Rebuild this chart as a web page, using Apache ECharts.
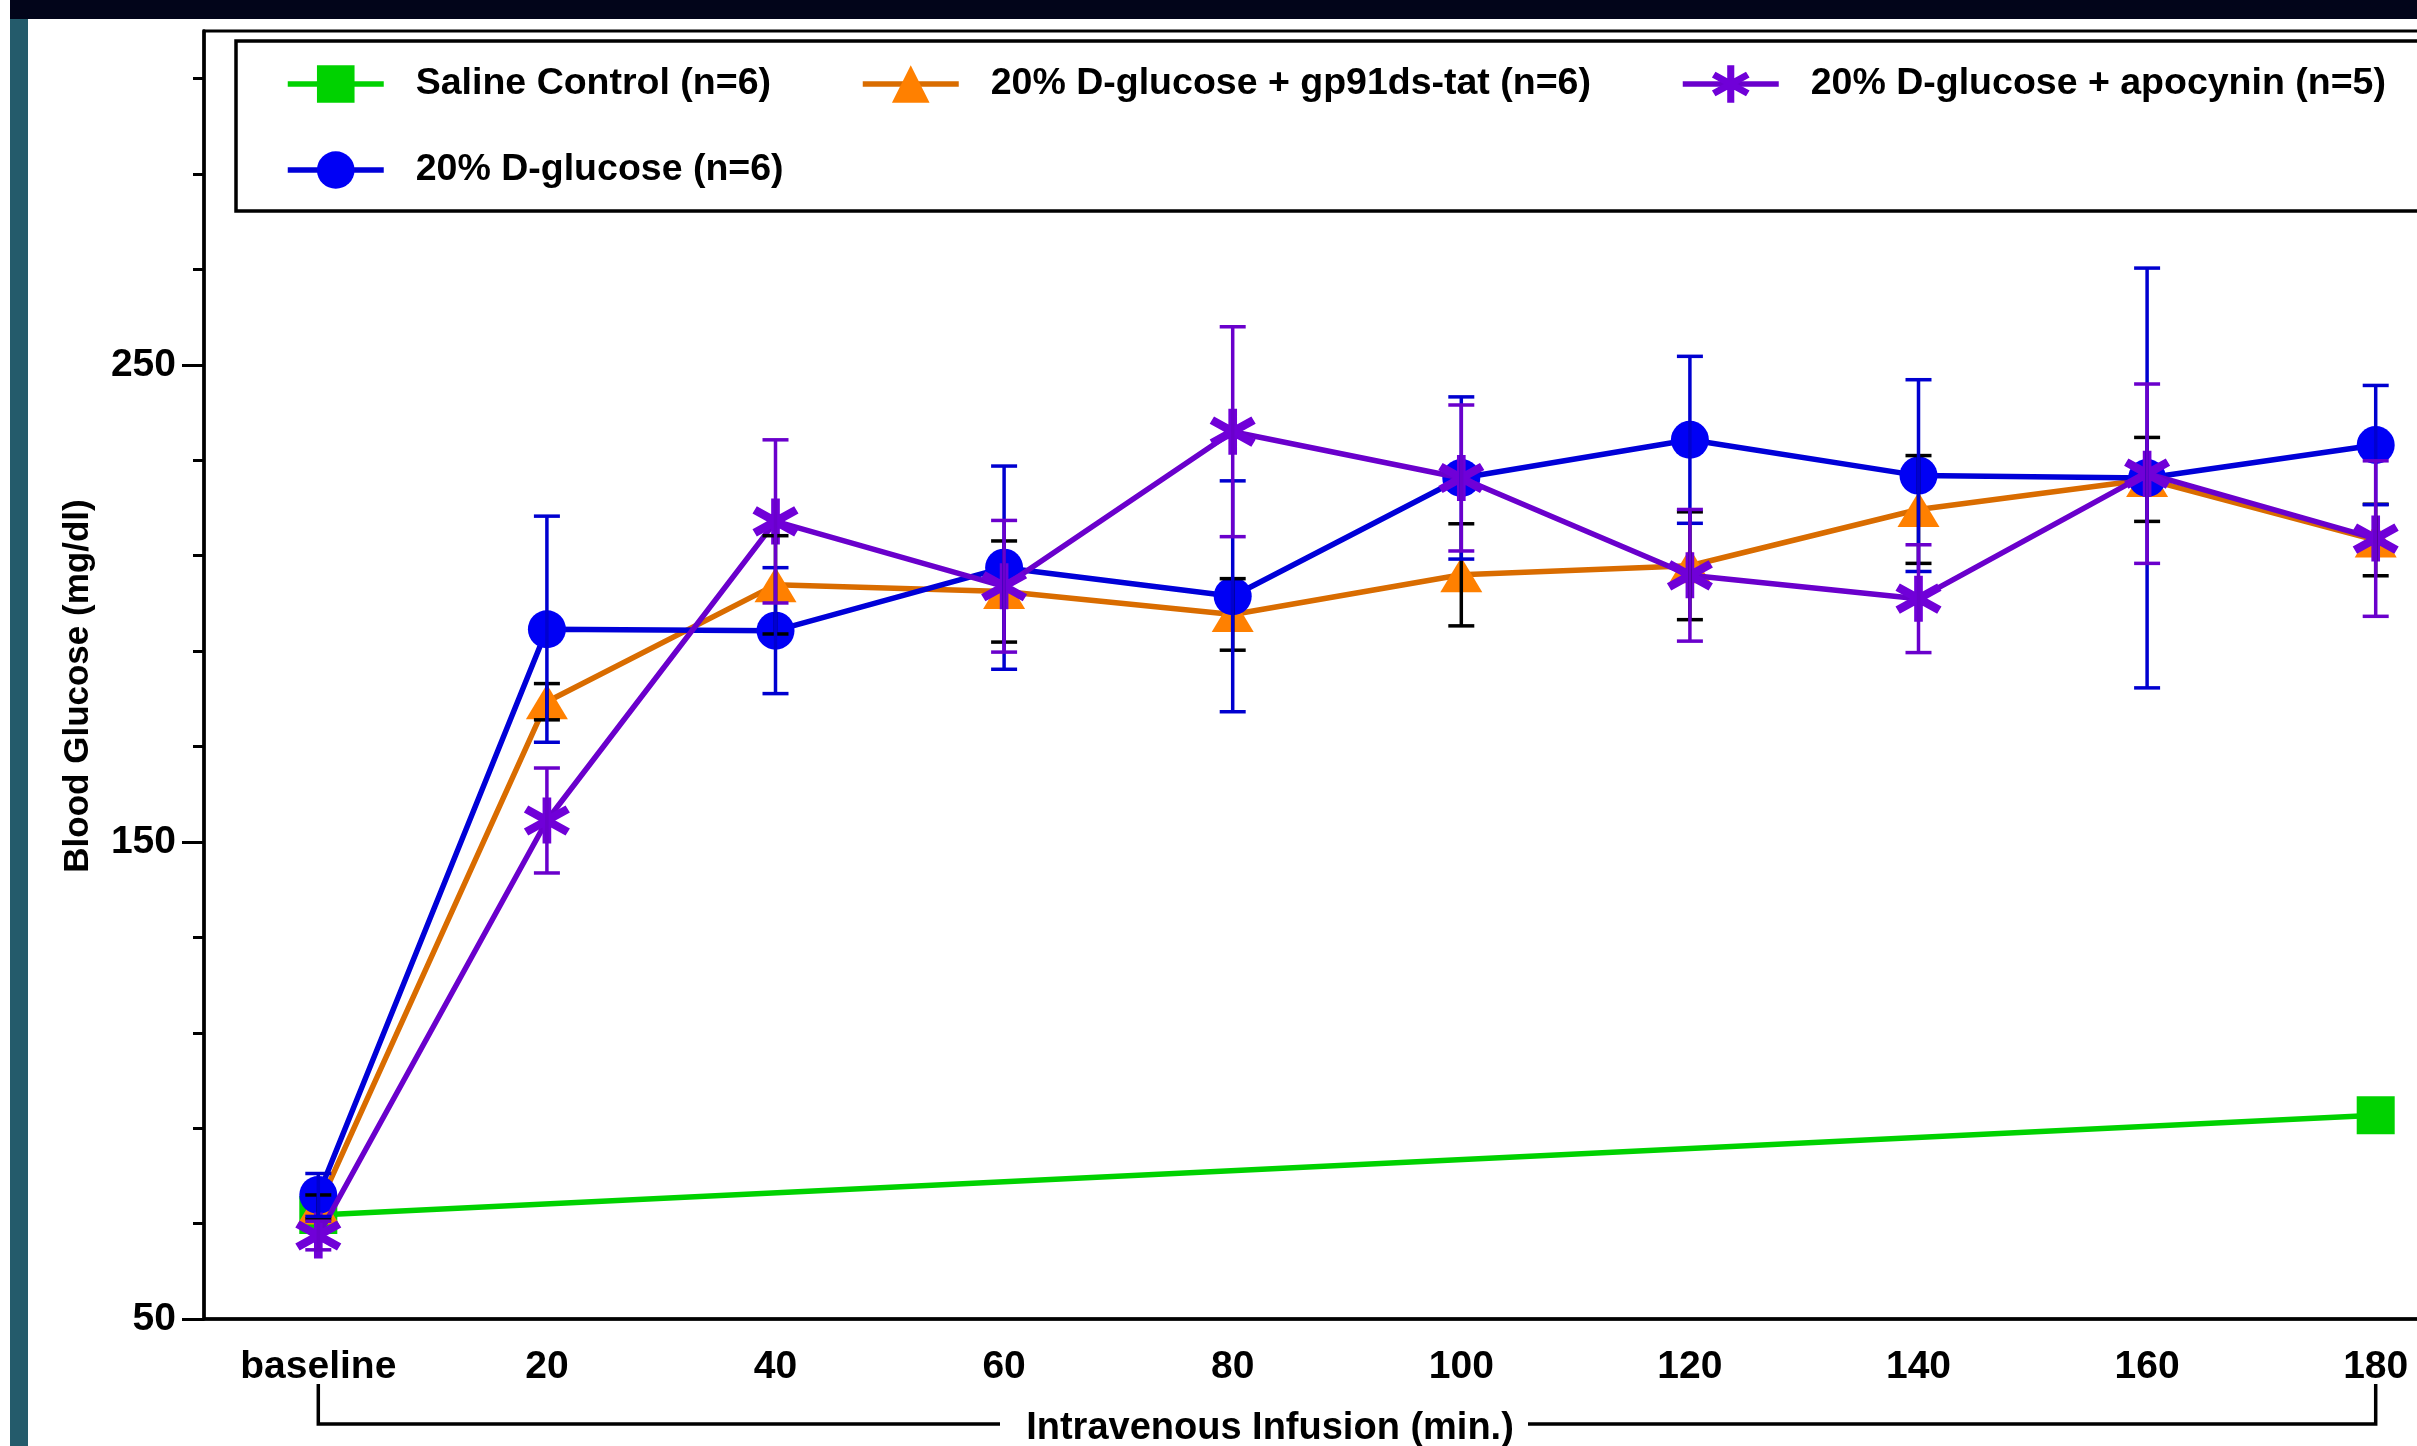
<!DOCTYPE html>
<html><head><meta charset="utf-8">
<script src="https://cdn.jsdelivr.net/npm/echarts@6/dist/echarts.min.js"></script>
<style>html,body{margin:0;padding:0;background:#fff}#c{width:2417px;height:1446px}</style>
</head><body><div id="c"></div>
<script>
// ---------------- data ----------------
const categories = ['baseline', '20', '40', '60', '80', '100', '120', '140', '160', '180'];
const seriesNames = ['Saline Control (n=6)', '20% D-glucose + gp91ds-tat (n=6)', '20% D-glucose + apocynin (n=5)', '20% D-glucose (n=6)'];
const salineMean  = [71.8, null, null, null, null, null, null, null, null, 92.7];
const gp91Mean    = [73.5, 179.4, 203.9, 202.5, 197.7, 206.0, 207.9, 219.7, 226.0, 213.3];
const gp91Sem     = [2.5, 3.8, 10.3, 10.6, 7.5, 10.7, 11.3, 11.3, 8.8, 7.5];
const apoMean     = [67.5, 154.5, 217.2, 203.6, 236.0, 226.3, 205.9, 201.0, 227.2, 213.6];
const apoSem      = [3.0, 11.0, 17.1, 13.8, 22.0, 15.3, 13.8, 11.3, 18.8, 16.3];
const glucoseMean = [76.0, 194.6, 194.3, 207.5, 201.5, 226.3, 234.3, 226.8, 226.3, 233.2];
const glucoseSem  = [4.5, 23.7, 13.2, 21.3, 24.2, 17.0, 17.5, 20.1, 44.0, 12.5];
const yTickValues = [50, 150, 250];
const yTitle = 'Blood Glucose (mg/dl)';
const xTitle = 'Intravenous Infusion (min.)';

// six-armed asterisk (vertical + two arms at ±30°), thick strokes
const asterisk = 'path://M41,0L59,0L59,100L41,100Z M88.8,17.2L97.8,32.8L11.2,82.8L2.2,67.2Z M2.2,32.8L11.2,17.2L97.8,67.2L88.8,82.8Z';
const FONT = 'Liberation Sans';
const LW = 5.5;

function errSeries(mean, sem, color) {
  return {
    type: 'custom', silent: true, z: 6, animation: false,
    data: mean.map((m, i) => [i, m - sem[i], m + sem[i]]),
    encode: { x: 0, y: [1, 2] },
    renderItem: function (params, api) {
      const lo = api.coord([api.value(0), api.value(1)]);
      const hi = api.coord([api.value(0), api.value(2)]);
      const hw = 13;
      const st = { stroke: color, lineWidth: 3.5 };
      return { type: 'group', children: [
        { type: 'line', shape: { x1: hi[0], y1: hi[1], x2: lo[0], y2: lo[1] }, style: st },
        { type: 'line', shape: { x1: hi[0] - hw, y1: hi[1], x2: hi[0] + hw, y2: hi[1] }, style: st },
        { type: 'line', shape: { x1: lo[0] - hw, y1: lo[1], x2: lo[0] + hw, y2: lo[1] }, style: st }
      ]};
    }
  };
}

const legendCommon = {
  orient: 'horizontal', itemWidth: 96, itemHeight: 47, padding: 0, itemGap: 0, selectedMode: false,
  lineStyle: { width: LW },
  textStyle: { fontFamily: FONT, fontWeight: 'bold', fontSize: 37.5, color: '#000', padding: [0, 0, 0, 27] }
};

const chart = echarts.init(document.getElementById('c'), null, { renderer: 'canvas' });
const option = {
  animation: false,
  backgroundColor: '#fff',
  grid: { left: 204, top: 31, bottom: 127, right: -73, show: true, borderColor: '#000', borderWidth: 3, backgroundColor: 'transparent', outerBoundsMode: 'none', containLabel: false },
  legend: [
    Object.assign({ data: [seriesNames[0]], left: 285, top: 65 }, legendCommon),
    Object.assign({ data: [seriesNames[1]], left: 860, top: 65 }, legendCommon),
    Object.assign({ data: [seriesNames[2]], left: 1680, top: 65 }, legendCommon),
    Object.assign({ data: [seriesNames[3]], left: 285, top: 151 }, legendCommon)
  ],
  xAxis: {
    type: 'category', data: categories, boundaryGap: true,
    axisLine: { lineStyle: { color: '#000', width: 3.5 } },
    axisTick: { alignWithLabel: true, interval: 0, length: 19, lineStyle: { color: '#000', width: 3 } },
    axisLabel: { interval: 0, margin: 29, fontFamily: FONT, fontWeight: 'bold', fontSize: 39, color: '#000' },
    splitLine: { show: false },
    name: xTitle, nameLocation: 'middle', nameGap: 91,
    nameTextStyle: { fontFamily: FONT, fontWeight: 'bold', fontSize: 38, color: '#000', padding: [0, 154, 0, 0] }
  },
  yAxis: {
    type: 'value', min: 50, max: 320, interval: 100,
    axisLine: { show: true, lineStyle: { color: '#000', width: 3.5 } },
    axisTick: { show: true, length: 22, lineStyle: { color: '#000', width: 3 }, customValues: yTickValues },
    minorTick: { show: true, splitNumber: 5, length: 11, lineStyle: { color: '#000', width: 3 } },
    axisLabel: { margin: 28, fontFamily: FONT, fontWeight: 'bold', fontSize: 39, color: '#000', customValues: yTickValues },
    splitLine: { show: false },
    name: yTitle, nameLocation: 'middle', nameRotate: 90, nameGap: 108,
    nameTextStyle: { fontFamily: FONT, fontWeight: 'bold', fontSize: 35, color: '#000', padding: [0, 22, 0, 0] }
  },
  series: [
    { name: seriesNames[0], type: 'line', data: salineMean, connectNulls: true, z: 2,
      symbol: 'rect', symbolSize: 38, lineStyle: { color: '#00d200', width: LW }, itemStyle: { color: '#00d200' } },
    { name: seriesNames[1], type: 'line', data: gp91Mean, z: 3,
      symbol: 'triangle', symbolSize: [42, 35], lineStyle: { color: '#d96c00', width: LW }, itemStyle: { color: '#ff8000' } },
    { name: seriesNames[3], type: 'line', data: glucoseMean, z: 4,
      symbol: 'circle', symbolSize: 38, lineStyle: { color: '#0000d8', width: LW }, itemStyle: { color: '#0000f5' } },
    { name: seriesNames[2], type: 'line', data: apoMean, z: 5,
      symbol: asterisk, symbolSize: 46, lineStyle: { color: '#6a00cc', width: LW }, itemStyle: { color: '#7000d8' } },
    errSeries(gp91Mean, gp91Sem, '#000000'),
    errSeries(glucoseMean, glucoseSem, '#0000d0'),
    errSeries(apoMean, apoSem, '#6a00cc')
  ]
};
chart.setOption(option);

// decorations (frame band, legend box, axis bracket)
const xb = chart.convertToPixel({ xAxisIndex: 0 }, 0);
const xe = chart.convertToPixel({ xAxisIndex: 0 }, categories.length - 1);
const ls = { stroke: '#000', lineWidth: 3.5 };
chart.setOption({
  graphic: [
    { type: 'rect', shape: { x: 10, y: 0, width: 2407, height: 19 }, style: { fill: '#02051a' }, z: 100 },
    { type: 'rect', shape: { x: 10, y: 19, width: 18, height: 1427 }, style: { fill: '#245b6b' }, z: 100 },
    { type: 'rect', shape: { x: 236, y: 41, width: 2400, height: 170 }, style: { fill: 'none', stroke: '#000', lineWidth: 3.5 }, z: 1 },
    { type: 'polyline', shape: { points: [[xb, 1384], [xb, 1424], [1000, 1424]] }, style: Object.assign({ fill: 'none' }, ls) },
    { type: 'polyline', shape: { points: [[1528, 1424], [xe, 1424], [xe, 1384]] }, style: Object.assign({ fill: 'none' }, ls) }
  ]
});
</script>
</body></html>
